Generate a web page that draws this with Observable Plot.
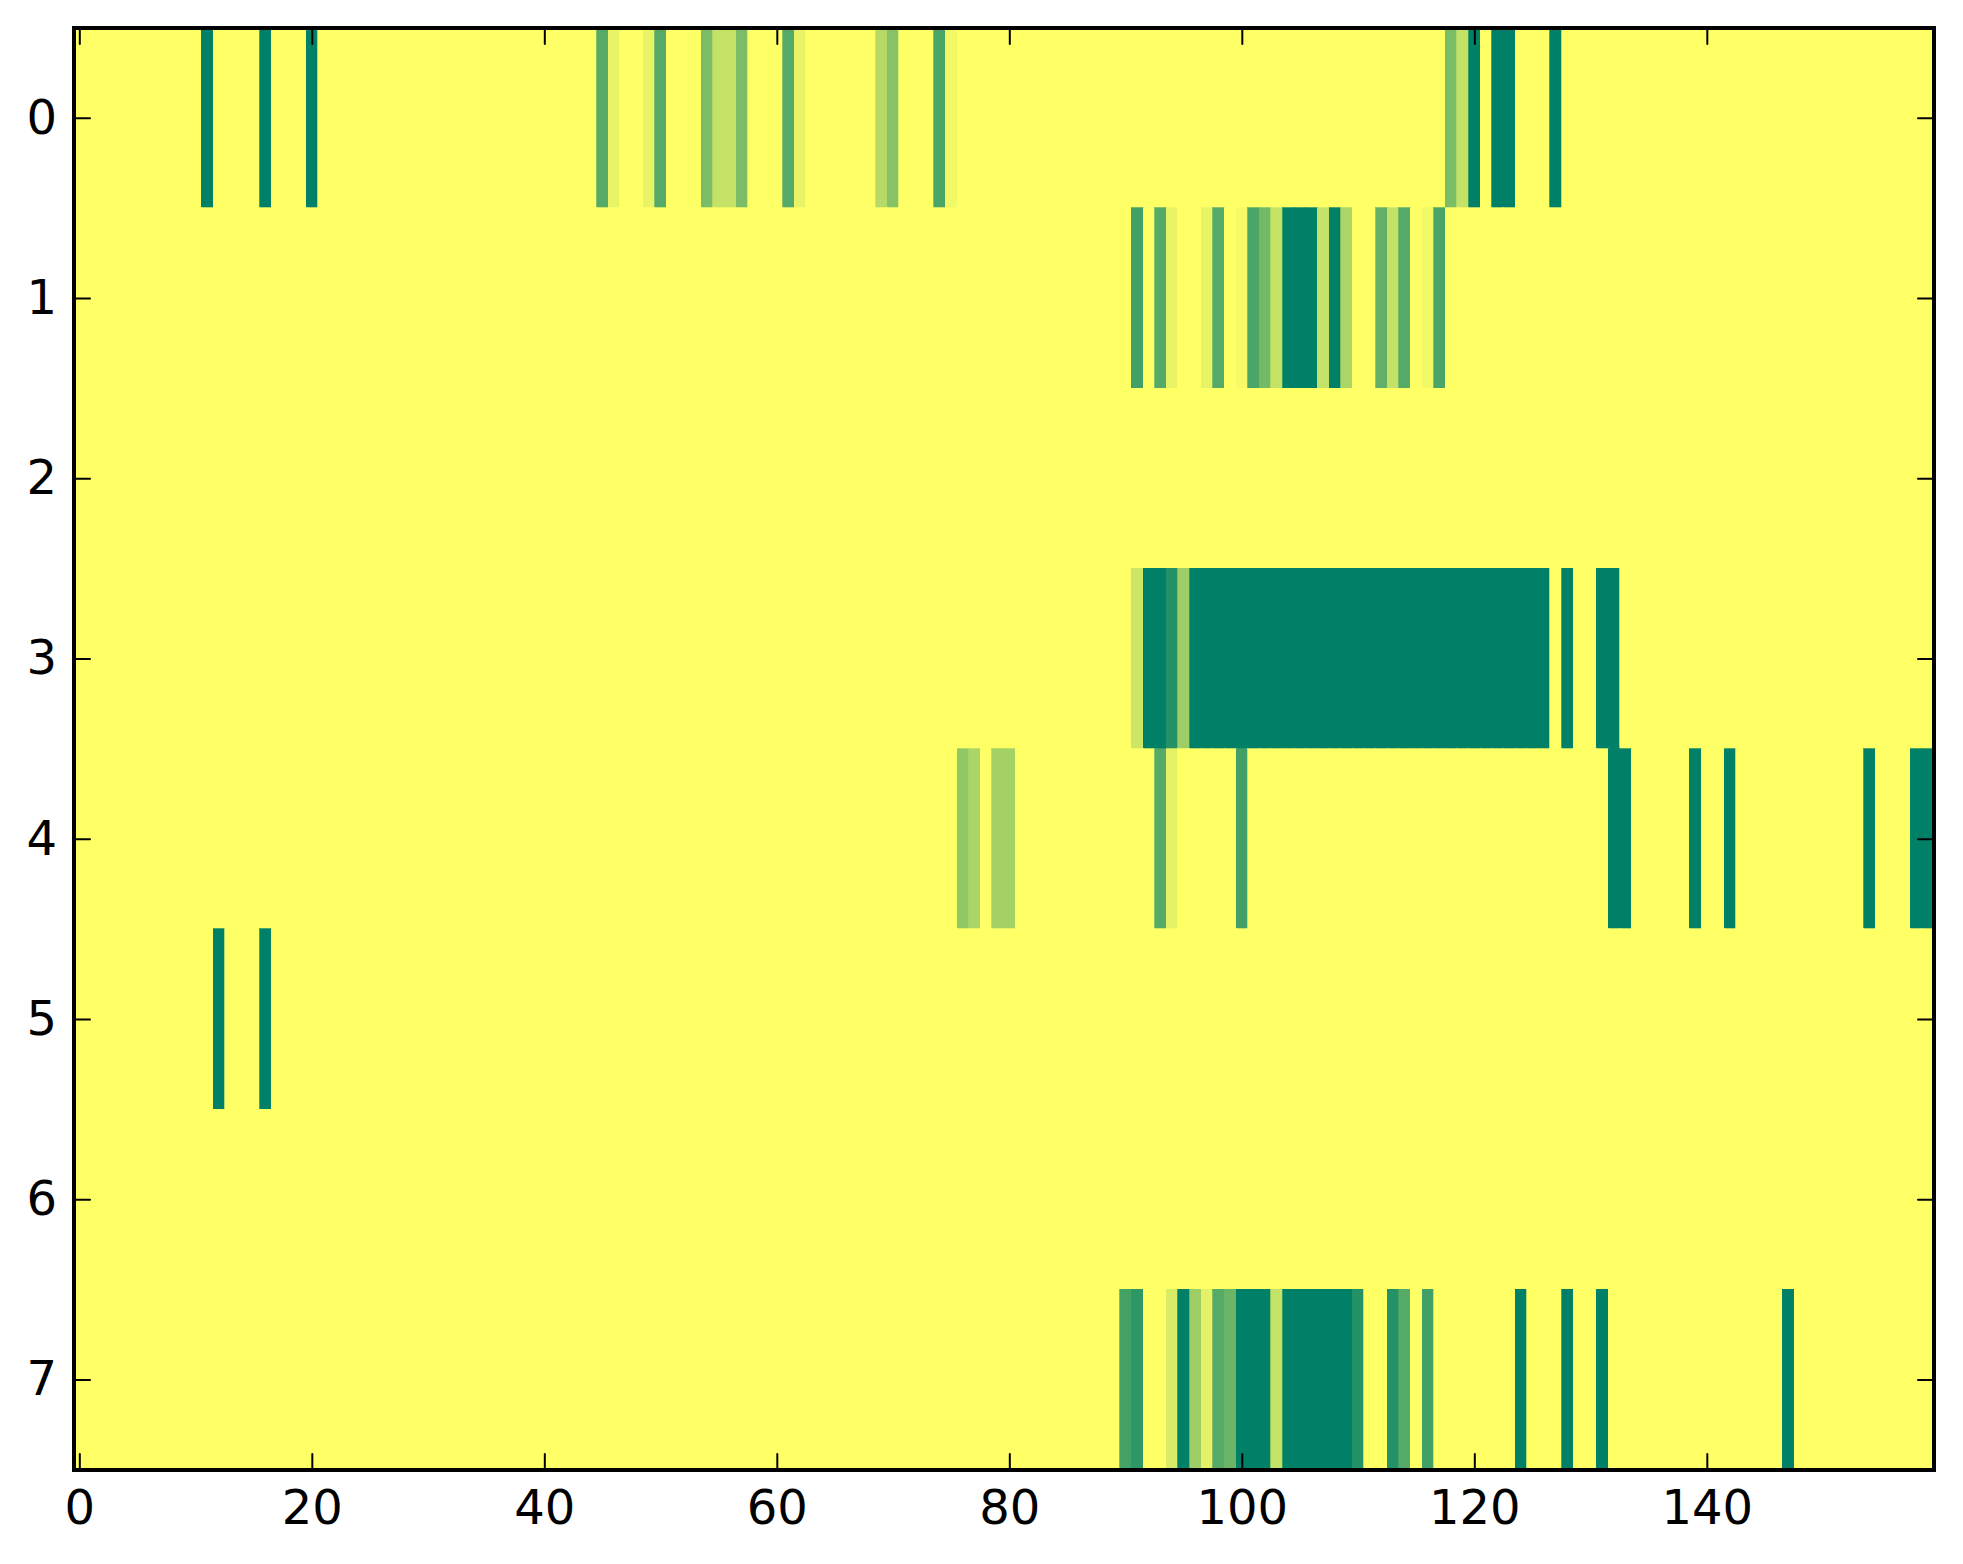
<!DOCTYPE html>
<html>
<head>
<meta charset="utf-8">
<script src="https://cdn.jsdelivr.net/npm/d3@7"></script>
<script src="https://cdn.jsdelivr.net/npm/@observablehq/plot@0.6"></script>
<style>
  html, body { margin: 0; padding: 0; background: #ffffff; }
  #chart { width: 1963px; height: 1564px; }
</style>
</head>
<body>
<div id="chart"></div>
<script>
// Grid size
const nCols = 160;
const rowLabels = [0, 1, 2, 3, 4, 5, 6, 7];
const xTicks = [0, 20, 40, 60, 80, 100, 120, 140];

// Non-zero cells per row: [column, value] (value normalised 0..1)
const row0 = [[11,1],[16,1],[20,1],[45,0.67],[46,0.09],[49,0.09],[50,0.67],[54,0.52],[55,0.23],[56,0.23],[57,0.52],
  [61,0.67],[62,0.09],[69,0.29],[70,0.47],[74,0.71],[75,0.05],[118,0.52],[119,0.23],[120,1],[122,1],[123,1],[127,1]];
const row1 = [[91,0.75],[93,0.67],[94,0.09],[97,0.09],[98,0.67],[100,0.04],[101,0.71],[102,0.55],[103,0.23],
  [104,1],[105,1],[106,1],[107,0.23],[108,1],[109,0.33],[112,0.62],[113,0.23],[114,0.67],[116,0.05],[117,0.71]];
const row2 = [];
const row3 = [[91,0.2],[92,1],[93,1],[94,0.86],[95,0.38],[96,1],[97,1],[98,1],[99,1],[100,1],[101,1],[102,1],[103,1],
  [104,1],[105,1],[106,1],[107,1],[108,1],[109,1],[110,1],[111,1],[112,1],[113,1],[114,1],[115,1],[116,1],[117,1],
  [118,1],[119,1],[120,1],[121,1],[122,1],[123,1],[124,1],[125,1],[126,1],[128,1],[131,1],[132,1]];
const row4 = [[76,0.43],[77,0.33],[79,0.36],[80,0.36],[93,0.67],[94,0.1],[100,0.75],[132,1],[133,1],[139,1],[142,1],
  [154,1],[158,1],[159,1]];
const row5 = [[12,1],[16,1]];
const row6 = [];
const row7 = [[90,0.73],[91,0.82],[94,0.15],[95,1],[96,0.38],[97,0.1],[98,0.67],[99,0.58],[100,1],[101,1],[102,1],
  [103,0.23],[104,1],[105,1],[106,1],[107,1],[108,1],[109,1],[110,0.86],[113,0.86],[114,0.67],[116,0.75],
  [124,1],[128,1],[131,1],[147,1]];

const rows = [row0, row1, row2, row3, row4, row5, row6, row7];

// Build full grid table
const cells = [];
rows.forEach((r, ri) => {
  const m = new Map(r);
  for (let c = 0; c < nCols; c++) cells.push({row: rowLabels[ri], col: c, v: m.get(c) ?? 0});
});

const tickShape = {draw(ctx, l) { ctx.moveTo(0, 0); ctx.lineTo(0, -l); }};
const tickOpts = {length: 16, anchor: "start", shape: tickShape, stroke: "black", strokeWidth: 2};
const font = "DejaVu Sans";

const chart = Plot.plot({
  width: 1963,
  height: 1564,
  marginLeft: 73.5,
  marginRight: 29.5,
  marginTop: 27.5,
  marginBottom: 94.5,
  style: {fontFamily: font, background: "#ffffff", color: "#000000"},
  x: {type: "linear", domain: [-0.5, nCols - 0.5], axis: null},
  y: {type: "linear", domain: [7.5, -0.5], axis: null},
  color: {type: "linear", domain: [0, 1], range: ["#ffff66", "#008066"], interpolate: "rgb"},
  marks: [
    Plot.rect(cells, {
      x1: d => d.col - 0.5, x2: d => d.col + 0.5,
      y1: d => d.row - 0.5, y2: d => d.row + 0.5,
      fill: "v", stroke: "v", strokeWidth: 0.7,
      shapeRendering: "crispEdges"
    }),
    Plot.vector(xTicks, {x: d => d, frameAnchor: "bottom", rotate: 0, ...tickOpts}),
    Plot.vector(xTicks, {x: d => d, frameAnchor: "top", rotate: 180, ...tickOpts}),
    Plot.vector(rowLabels, {y: d => d, frameAnchor: "left", rotate: 90, ...tickOpts}),
    Plot.vector(rowLabels, {y: d => d, frameAnchor: "right", rotate: -90, ...tickOpts}),
    Plot.axisX(xTicks, {anchor: "bottom", tickSize: 0, tickPadding: 20, fontSize: 48, fontFamily: font, label: null, tickFormat: d => String(d)}),
    Plot.axisY(rowLabels, {anchor: "left", tickSize: 0, tickPadding: 17, fontSize: 48, fontFamily: font, label: null, tickFormat: d => String(d)}),
    Plot.frame({stroke: "black", strokeWidth: 4})
  ]
});
document.getElementById("chart").appendChild(chart);
</script>
</body>
</html>
